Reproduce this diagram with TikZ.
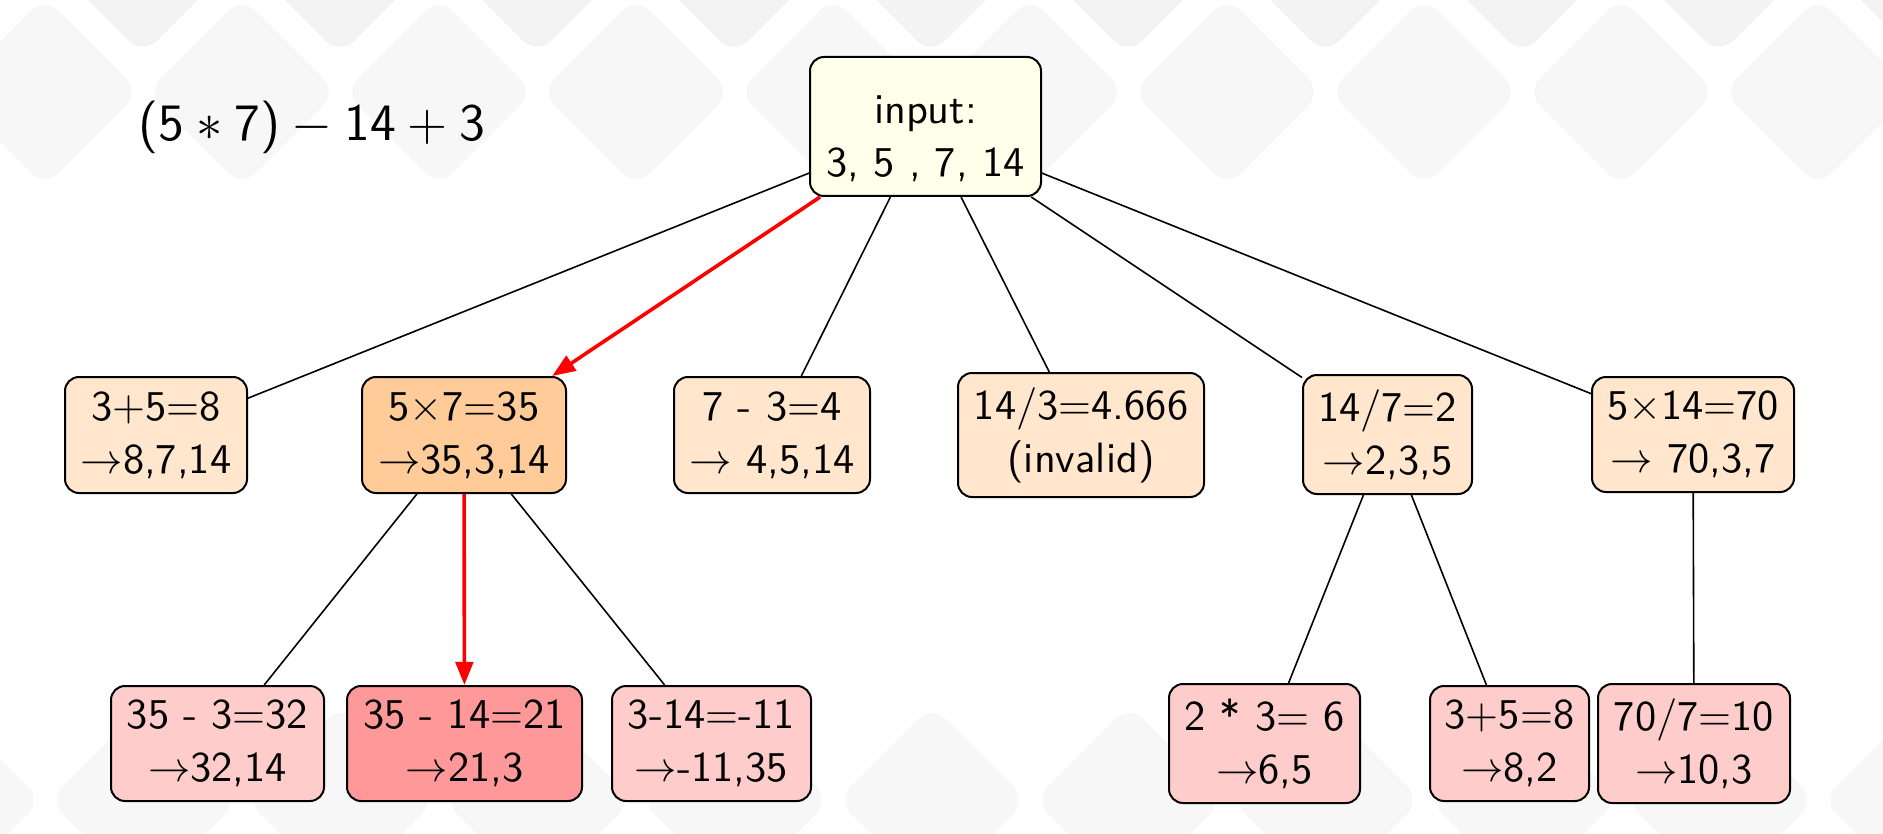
\documentclass[tikz,border=0pt]{standalone}
\usepackage{fix-cm}
\usetikzlibrary{arrows.meta}
\definecolor{inputfill}{HTML}{FFFFEA}
\definecolor{lonefill}{HTML}{FFE6CC}
\definecolor{lonesel}{HTML}{FFCC99}
\definecolor{ltwofill}{HTML}{FFCCCC}
\definecolor{ltwosel}{HTML}{FF9999}
\definecolor{bgdia}{HTML}{F7F7F7}
\definecolor{bgdiadark}{HTML}{F3F3F3}
\tikzset{
  box/.style={draw=black, line width=0.5pt, rounded corners=3.5pt, align=center,
    inner xsep=2pt, inner ysep=2pt,
    font=\fontsize{10.6}{13.2}\selectfont\sffamily},
  inbox/.style={box, fill=inputfill},
  onebox/.style={box, fill=lonefill},
  oneselbox/.style={box, fill=lonesel},
  twobox/.style={box, fill=ltwofill},
  twoselbox/.style={box, fill=ltwosel},
  edge/.style={draw=black, line width=0.4pt},
  redarrow/.style={draw=red, line width=0.9pt, -{Triangle[length=5.8pt,width=4.4pt]}},
  diamondbg/.style={rounded corners=5pt}
}
\begin{document}
\begin{tikzpicture}[x=0.25pt, y=-0.25pt]
\useasboundingbox (0,0) rectangle (1883,834);
% background pattern
\begin{scope}
\clip (0,0) rectangle (1883,834);
\foreach \k in {-1,...,10} {
  \fill[bgdiadark, diamondbg] ({143+197*\k},-135) -- ++(95,95) -- ++(-95,95) -- ++(-95,-95) -- cycle;
  \fill[bgdia, diamondbg] ({45+197*\k},-3) -- ++(95,95) -- ++(-95,95) -- ++(-95,-95) -- cycle;
  \fill[bgdia, diamondbg] ({144+197*\k},705) -- ++(95,95) -- ++(-95,95) -- ++(-95,-95) -- cycle;
}
\end{scope}
% expression
\node[anchor=base west, inner sep=0pt, font=\fontsize{13.15}{15.5}\selectfont\sffamily] (expr) at (138,141)
  {(5${}\ast{}$7)${}-{}$14${}+{}$3};
% nodes
\node[inbox, minimum width=57.75pt, minimum height=34.75pt] (in) at (925.5,126.5) {\rule{0pt}{13pt}input:\\3, 5 , 7, 14};
\node[onebox, minimum width=45.5pt, minimum height=29pt] (A) at (156,435) {3+5=8\\$\rightarrow$8,7,14};
\node[oneselbox, minimum width=51pt, minimum height=29pt] (B) at (464,435) {5$\times$7=35\\$\rightarrow$35,3,14};
\node[onebox, minimum width=49pt, minimum height=29pt] (C) at (772,435) {7 - 3=4\\$\rightarrow$ 4,5,14};
\node[onebox, minimum width=61.5pt, minimum height=31pt] (D) at (1081,435) {14/3=4.666\\(invalid)};
\node[onebox, minimum width=42.25pt, minimum height=29.75pt] (E) at (1387.5,434.5) {14/7=2\\$\rightarrow$2,3,5};
\node[onebox, minimum width=50.5pt, minimum height=28.75pt] (F) at (1693,434.5) {5$\times$14=70\\$\rightarrow$ 70,3,7};
\node[twobox, minimum width=53.25pt, minimum height=28.75pt] (G) at (217.5,743.5) {35 - 3=32\\$\rightarrow$32,14};
\node[twoselbox, minimum width=58.75pt, minimum height=28.75pt] (H) at (464.5,743.5) {35 - 14=21\\$\rightarrow$21,3};
\node[twobox, minimum width=49.75pt, minimum height=28.75pt] (I) at (711.5,743.5) {3-14=-11\\$\rightarrow$-11,35};
\node[twobox, minimum width=47.75pt, minimum height=29.75pt] (J) at (1264.5,743.5) {2 * 3= 6\\$\rightarrow$6,5};
\node[twobox, minimum width=39.75pt, minimum height=28.75pt] (K) at (1509.5,743.5) {3+5=8\\$\rightarrow$8,2};
\node[twobox, minimum width=48pt, minimum height=29.75pt] (L) at (1694,743.5) {70/7=10\\$\rightarrow$10,3};
% connectors
\draw[edge] (in) -- (A);
\draw[edge] (in) -- (C);
\draw[edge] (in) -- (D);
\draw[edge] (in) -- (E);
\draw[edge] (in) -- (F);
\draw[edge] (B) -- (G);
\draw[edge] (B) -- (I);
\draw[edge] (E) -- (J);
\draw[edge] (E) -- (K);
\draw[edge] (F) -- (L);
\draw[redarrow] (in) -- (B);
\draw[redarrow] (B) -- (H);
\end{tikzpicture}
\end{document}
